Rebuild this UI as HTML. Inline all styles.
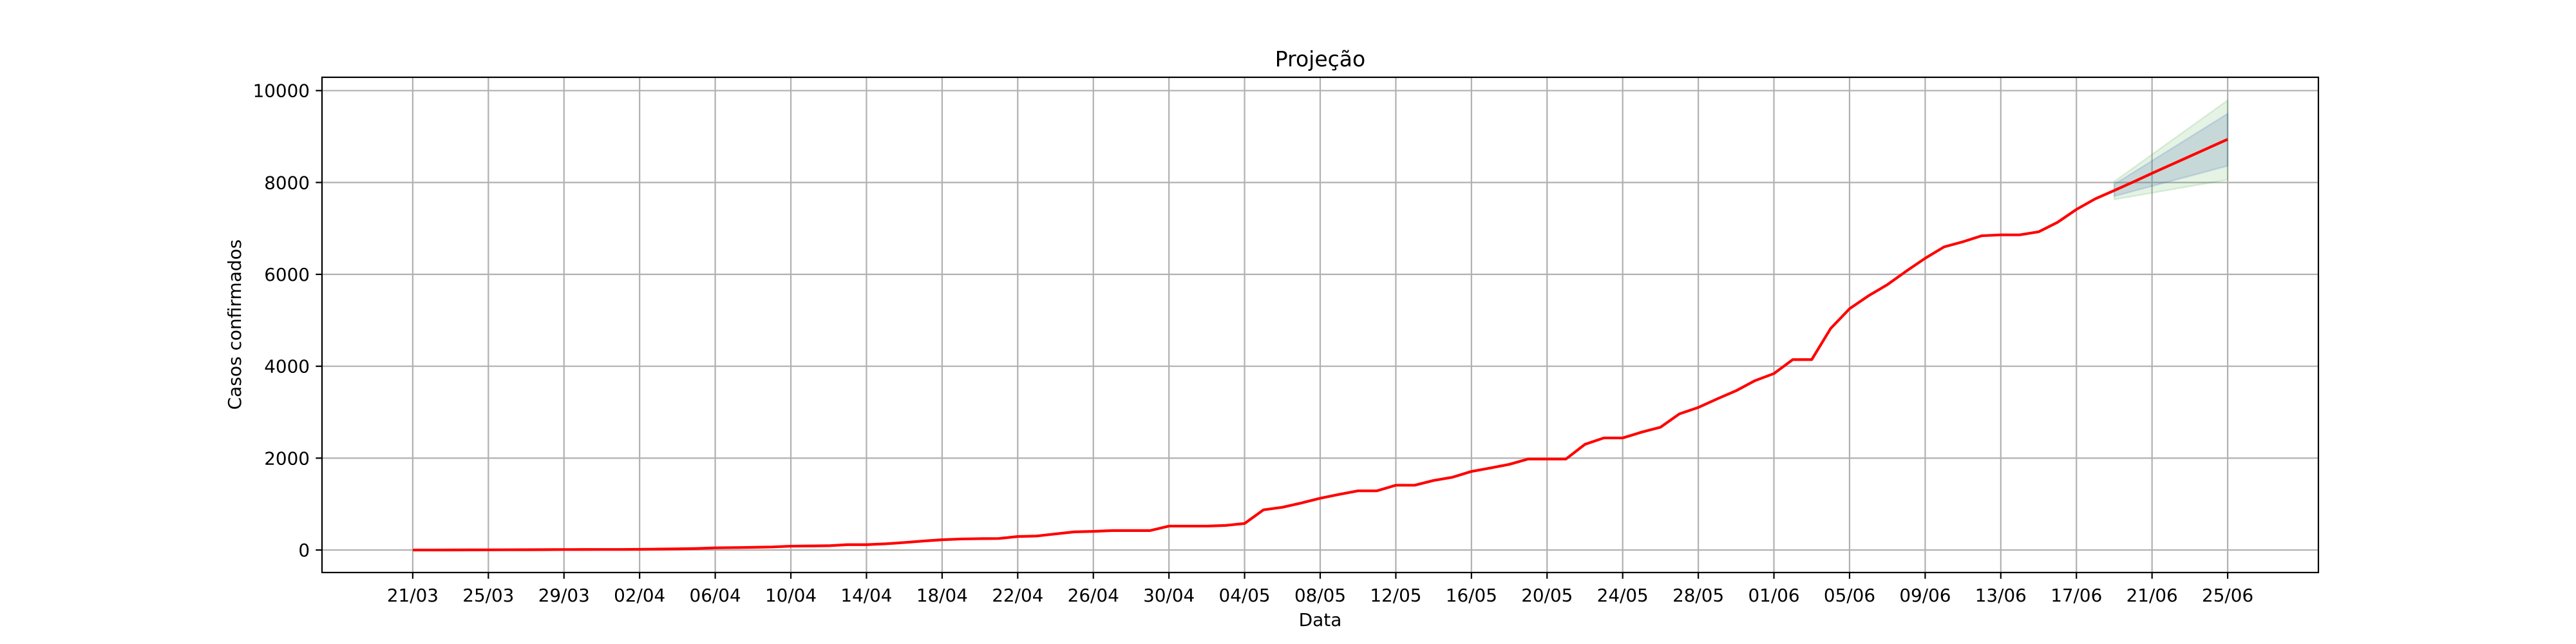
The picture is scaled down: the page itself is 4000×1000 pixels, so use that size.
<!DOCTYPE html>
<html><head><meta charset="utf-8"><style>
html,body{margin:0;padding:0;background:#fff;}
svg{display:block;font-family:"DejaVu Sans","Liberation Sans",sans-serif;}
</style></head><body>
<svg id="chart" width="4000" height="1000" viewBox="0 0 4000 1000" xmlns="http://www.w3.org/2000/svg">
<rect width="4000" height="1000" fill="#fff"/>
<g id="grid"></g>
<g id="bands"></g>
<g id="series"></g>
<g id="axes"></g>
<text x="2050" y="103" text-anchor="middle" font-size="33">Projeção</text>
<text x="2050" y="972" text-anchor="middle" font-size="28">Data</text>
<text x="374" y="504" text-anchor="middle" font-size="28" transform="rotate(-90 374 504)">Casos confirmados</text>
</svg>
<script>
// Observed cumulative cases, one per day starting 21/03
const observed = [0,0,1,2,3,5,6,8,10,11,
12,12,15,20,25,32,47,52,58,66,
84,88,93,116,116,135,163,195,223,240,
247,250,293,305,350,395,405,423,423,423,
520,520,520,535,577,874,930,1023,1126,1210,
1288,1288,1410,1410,1514,1584,1710,1785,1864,1981,
1981,1981,2299,2439,2439,2565,2673,2963,3103,3290,
3467,3687,3841,4145,4145,4822,5252,5533,5776,6070,
6350,6598,6710,6841,6860,6860,6926,7132,7413,7645,7826];
// Projection from 19/06 (day 90) to 25/06 (day 96)
const projStart = 90;
const projected = [7826,8010,8200,8385,8570,8755,8940];
const innerLow = [7700,7810,7920,8030,8140,8250,8360];
const innerHigh = [7960,8217,8473,8730,8987,9243,9500];
const outerLow = [7630,7702,7773,7845,7917,7988,8060];
const outerHigh = [8020,8315,8610,8905,9200,9495,9790];
const xTickLabels = ["21/03","25/03","29/03","02/04","06/04","10/04","14/04","18/04","22/04","26/04","30/04","04/05","08/05","12/05","16/05","20/05","24/05","28/05","01/06","05/06","09/06","13/06","17/06","21/06","25/06"];
const yTicks = [0,2000,4000,6000,8000,10000];

const L=500,R=3600,T=120,B=889;
const xMin=-4.8,xMax=100.8,yMin=-490,yMax=10290;
const X=d=>L+(d-xMin)/(xMax-xMin)*(R-L);
const Y=v=>B-(v-yMin)/(yMax-yMin)*(B-T);
const NS="http://www.w3.org/2000/svg";
function mk(tag,parent,attrs){const e=document.createElementNS(NS,tag);for(const k in attrs)e.setAttribute(k,attrs[k]);parent.appendChild(e);return e;}
const grid=document.getElementById('grid'),axes=document.getElementById('axes'),bands=document.getElementById('bands'),series=document.getElementById('series');

xTickLabels.forEach((lab,i)=>{
  const x=X(i*4);
  const g=mk('line',grid,{x1:x,x2:x,y1:T,y2:B,stroke:'#b0b0b0','stroke-width':2.2});
  
  
  const t=mk('line',axes,{x1:x,x2:x,y1:B,y2:B+9.7,stroke:'#000','stroke-width':2.2});
  
  
  const tx=mk('text',axes,{x:x,y:B+45,'text-anchor':'middle','font-size':27.8});
  tx.textContent=lab;
  
  
});
yTicks.forEach(v=>{
  const y=Y(v);
  const g=mk('line',grid,{x1:L,x2:R,y1:y,y2:y,stroke:'#b0b0b0','stroke-width':2.2});
  
  
  const t=mk('line',axes,{x1:L-9.7,x2:L,y1:y,y2:y,stroke:'#000','stroke-width':2.2});
  
  
  const tx=mk('text',axes,{x:L-19,y:y+10,'text-anchor':'end','font-size':27.8});
  tx.textContent=String(v);
  
  
});
function band(lo,hi,fill,op,stroke,name){
  let pts=[];
  hi.forEach((v,i)=>pts.push(X(projStart+i)+','+Y(v)));
  for(let i=lo.length-1;i>=0;i--)pts.push(X(projStart+i)+','+Y(lo[i]));
  const p=mk('polygon',bands,{points:pts.join(' '),fill:fill,'fill-opacity':op,stroke:stroke,'stroke-opacity':0.15,'stroke-width':2.5});
  
  
}
band(outerLow,outerHigh,'#2ca02c',0.12,'#2ca02c','outer-band');
band(innerLow,innerHigh,'#4a6fa5',0.2,'#3050c0','inner-band');
const obsPts=observed.map((v,i)=>X(i)+','+Y(v)).join(' ');
const l1=mk('polyline',series,{points:obsPts,fill:'none',stroke:'#ff0000','stroke-width':4.2,'stroke-linejoin':'round'});


const prPts=projected.map((v,i)=>X(projStart+i)+','+Y(v)).join(' ');
const l2=mk('polyline',series,{points:prPts,fill:'none',stroke:'#ff0000','stroke-width':4.2,'stroke-linejoin':'round'});


const fr=mk('rect',axes,{x:L,y:T,width:R-L,height:B-T,fill:'none',stroke:'#000','stroke-width':2.2});


</script>
</body></html>
